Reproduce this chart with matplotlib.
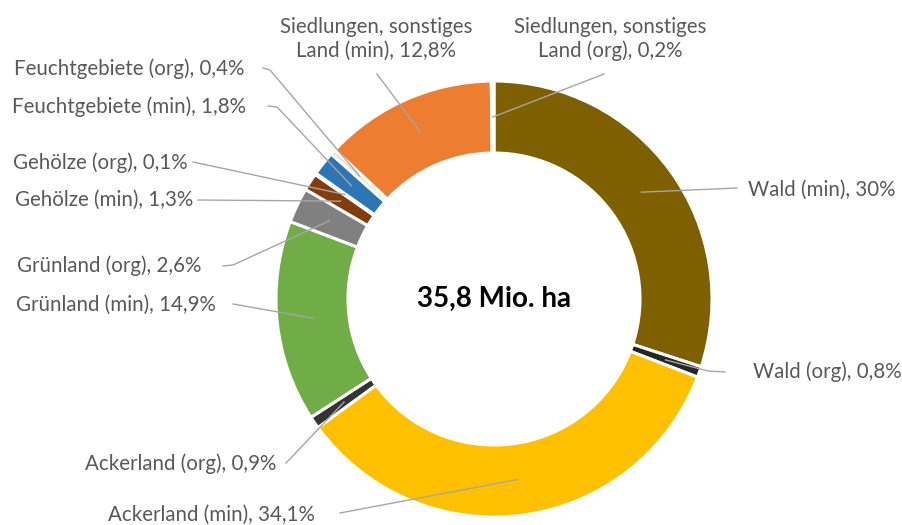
import numpy as np
import matplotlib
matplotlib.use("Agg")
import matplotlib.pyplot as plt

plt.rcParams['font.family'] = ['Lato', 'DejaVu Sans']

# slices clockwise from 12 o'clock
labels = ["Wald (min), 30%", "Wald (org), 0,8%",
          "Ackerland (min), 34,1%", "Ackerland (org), 0,9%",
          "Grünland (min), 14,9%", "Grünland (org), 2,6%",
          "Gehölze (min), 1,3%", "Gehölze (org), 0,1%",
          "Feuchtgebiete (min), 1,8%", "Feuchtgebiete (org), 0,4%",
          "Siedlungen, sonstiges\nLand (min), 12,8%",
          "Siedlungen, sonstiges\nLand (org), 0,2%"]
shares = [30.0, 0.8, 34.1, 0.9, 14.9, 2.6, 1.3, 0.1, 1.8, 0.4, 12.8, 0.2]
colors = ["#7F6000", "#262626", "#FFC000", "#333333", "#70AD47", "#808080",
          "#843C0C", "#E7E6E6", "#2E75B6", "#E0E0E0", "#ED7D31", "#EDEDED"]
total = "35,8 Mio. ha"

W, H = 902, 525
cx, cy = 494, H - 299
r_out, r_in = 218, 146

# label layout in pixel coords (x, y from top): text anchor, ha, leader start, optional elbow
lay = [
    ((748, 190), "left",   (737, 188), None),
    ((753, 372), "left",   (725, 372), (708, 371)),
    ((315, 515), "right",  (340, 513), None),
    ((276, 464), "right",  (286, 463), None),
    ((216, 305), "right",  (233, 304), None),
    ((201, 266), "right",  (223, 266), (233, 265)),
    ((193, 200), "right",  (198, 200), None),
    ((188, 163), "right",  (193, 162), None),
    ((246, 107), "right",  (268, 106), (277, 107)),
    ((244, 69),  "right",  (263, 68),  (270, 70)),
    ((376, 39),  "center", (377, 74),  None),
    ((610, 39),  "center", (604, 74),  None),
]

fig = plt.figure(figsize=(W / 100, H / 100), dpi=100, facecolor="white")
ax = fig.add_axes([0, 0, 1, 1])

wedges, _ = ax.pie(shares, colors=colors, startangle=90, counterclock=False,
                   radius=r_out, center=(cx, cy),
                   wedgeprops=dict(width=r_out - r_in, edgecolor="white", linewidth=2.2))
ax.set_xlim(0, W); ax.set_ylim(0, H); ax.set_aspect("equal"); ax.axis("off")

r_mid = (r_out + r_in) / 2
for w, (tp, ha, ls, elb), lab in zip(wedges, lay, labels):
    ang = np.deg2rad((w.theta1 + w.theta2) / 2)
    px, py = cx + r_mid * np.cos(ang), cy + r_mid * np.sin(ang)
    pts = [(ls[0], H - ls[1])]
    if elb is not None:
        pts.append((elb[0], H - elb[1]))
    pts.append((px, py))
    xs, ys = zip(*pts)
    ax.plot(xs, ys, color="#A6A6A6", lw=1.0, zorder=3)
    ax.text(tp[0], H - tp[1], lab, ha=ha, va="center", fontsize=14.8,
            color="#595959", linespacing=1.25)

ax.text(cx, cy, total, ha="center", va="center", fontsize=20,
        fontweight="bold", color="black")

fig.savefig("out.png", dpi=100, facecolor="white")
